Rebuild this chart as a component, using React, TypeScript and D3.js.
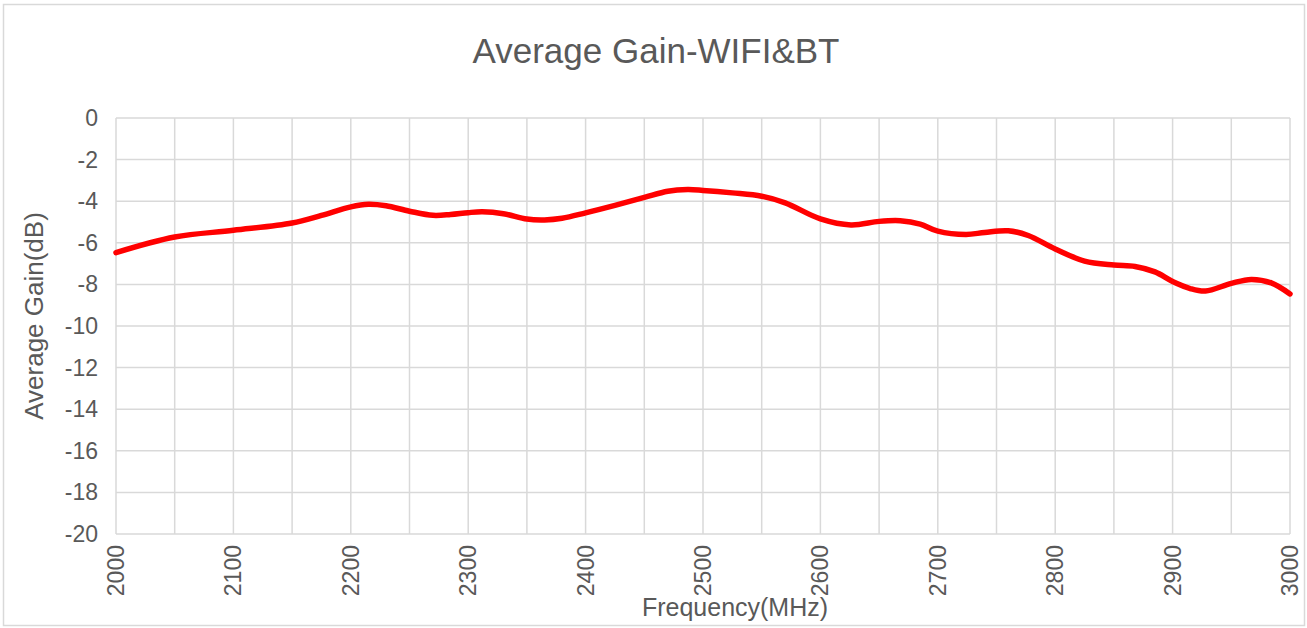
import React from "react";
import * as d3 from "d3";

const frequencies = [
  2000, 2050, 2100, 2150, 2175, 2200, 2215, 2230, 2250, 2270, 2285, 2300, 2312, 2330,
  2350, 2365, 2380, 2400, 2425, 2450, 2470, 2487, 2500, 2525, 2550, 2570, 2600, 2626,
  2650, 2668, 2685, 2700, 2724, 2740, 2760, 2777, 2800, 2825, 2850, 2868, 2885, 2900,
  2915, 2928, 2950, 2967, 2984, 3000,
];
const gains = [
  -6.47, -5.72, -5.4, -5.05, -4.68, -4.27, -4.15, -4.22, -4.48, -4.68, -4.64, -4.55, -4.51, -4.6,
  -4.86, -4.9, -4.82, -4.56, -4.2, -3.82, -3.52, -3.44, -3.48, -3.6, -3.76, -4.08, -4.85, -5.14,
  -4.97, -4.94, -5.1, -5.44, -5.6, -5.5, -5.42, -5.65, -6.3, -6.88, -7.07, -7.14, -7.4, -7.86,
  -8.2, -8.32, -7.95, -7.76, -7.93, -8.46,
];
const xTicks = [2000, 2100, 2200, 2300, 2400, 2500, 2600, 2700, 2800, 2900, 3000];
const xGrid = d3.range(2000, 3001, 50);
const yTicks = [0, -2, -4, -6, -8, -10, -12, -14, -16, -18, -20];

const W = 1307;
const H = 628;
const left = 116;
const right = 1290;
const top = 118;
const bottom = 534;
const font = "'Liberation Sans', Arial, sans-serif";
const textColor = "#595959";
const gridColor = "#d9d9d9";

export default function App() {
  const x = d3.scaleLinear().domain([2000, 3000]).range([left, right]);
  const y = d3.scaleLinear().domain([-20, 0]).range([bottom, top]);
  const data = frequencies.map((f, i) => [f, gains[i]] as [number, number]);
  const line = d3
    .line<[number, number]>()
    .x((d) => x(d[0]))
    .y((d) => y(d[1]))
    .curve(d3.curveCatmullRom.alpha(0.5));

  return (
    <svg
      width={W}
      height={H}
      style={{ position: "absolute", left: 0, top: 0, background: "#fff" }}
    >
      <rect x={3.5} y={4.5} width={1301} height={621} fill="#fff" stroke={gridColor} strokeWidth={1.5} />
      <text
        x={656}
        y={63}
        textAnchor="middle"
        fontFamily={font}
        fontSize={35}
        fill={textColor}
      >
        Average Gain-WIFI&amp;BT
      </text>
      {yTicks.map((t) => (
        <line key={"hy" + t} x1={left} x2={right} y1={y(t)} y2={y(t)} stroke={gridColor} strokeWidth={1.5} />
      ))}
      {xGrid.map((t) => (
        <line key={"vx" + t} x1={x(t)} x2={x(t)} y1={top} y2={bottom} stroke={gridColor} strokeWidth={1.5} />
      ))}
      {yTicks.map((t) => (
        <text
          key={"ty" + t}
          x={98}
          y={y(t)}
          dy="0.35em"
          textAnchor="end"
          fontFamily={font}
          fontSize={23}
          fill={textColor}
        >
          {t === 0 ? "0" : "-" + Math.abs(t)}
        </text>
      ))}
      {xTicks.map((t) => (
        <text
          key={"tx" + t}
          transform={`translate(${x(t)},${545}) rotate(-90)`}
          dy="0.35em"
          textAnchor="end"
          fontFamily={font}
          fontSize={23}
          fill={textColor}
        >
          {t}
        </text>
      ))}
      <text
        x={735}
        y={616}
        textAnchor="middle"
        fontFamily={font}
        fontSize={25}
        fill={textColor}
      >
        Frequency(MHz)
      </text>
      <text
        transform={`translate(43,316) rotate(-90)`}
        textAnchor="middle"
        fontFamily={font}
        fontSize={26}
        fill={textColor}
      >
        Average Gain(dB)
      </text>
      <path d={line(data) || ""} fill="none" stroke="#ff0000" strokeWidth={5.5} strokeLinecap="round" strokeLinejoin="round" />
    </svg>
  );
}
